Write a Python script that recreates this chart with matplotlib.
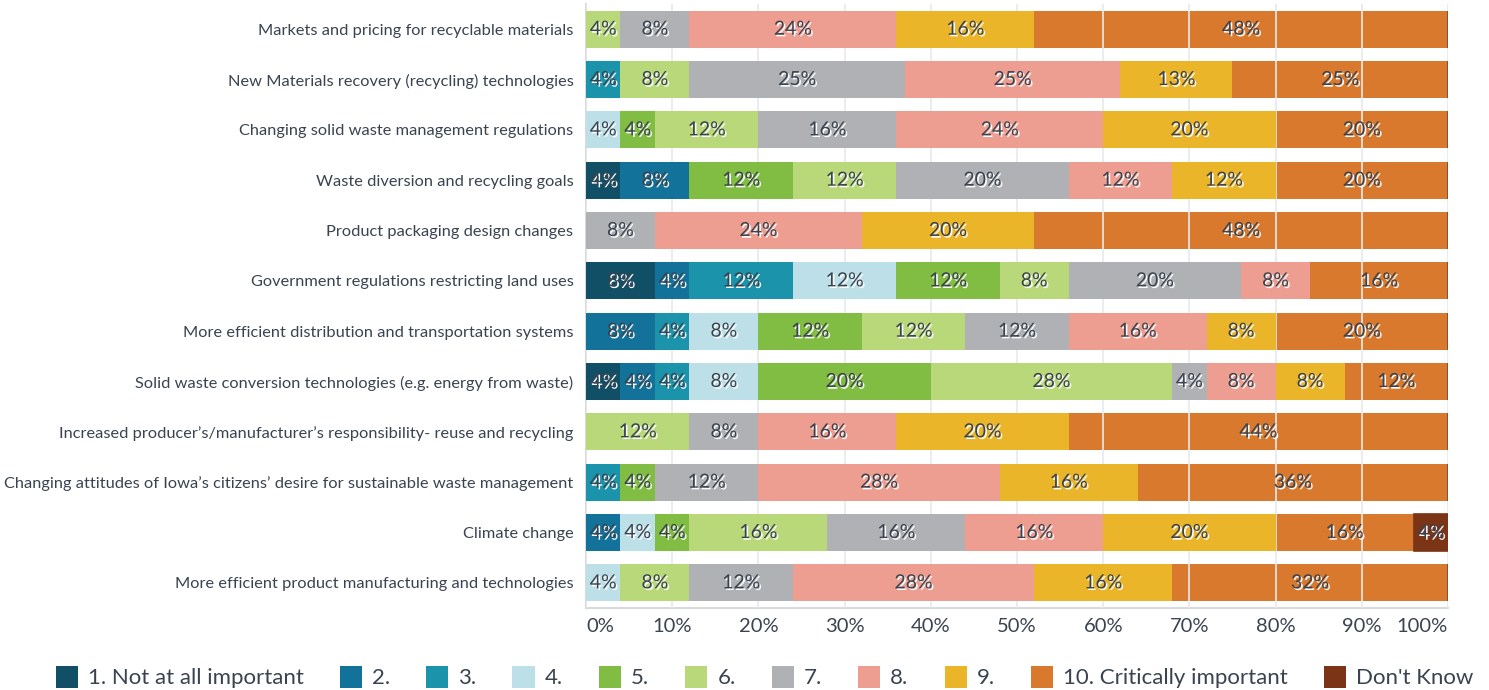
import matplotlib
matplotlib.use("Agg")
from matplotlib import pyplot as plt
from matplotlib.patches import Patch
import matplotlib.patheffects as pe
import numpy as np

plt.rcParams['font.family'] = ['Lato', 'DejaVu Sans']

questions = [
    "Markets and pricing for recyclable materials",
    "New Materials recovery (recycling) technologies",
    "Changing solid waste management regulations",
    "Waste diversion and recycling goals",
    "Product packaging design changes",
    "Government regulations restricting land uses",
    "More efficient distribution and transportation systems",
    "Solid waste conversion technologies (e.g. energy from waste)",
    "Increased producer\u2019s/manufacturer\u2019s responsibility- reuse and recycling",
    "Changing attitudes of Iowa\u2019s citizens\u2019 desire for sustainable waste management",
    "Climate change",
    "More efficient product manufacturing and technologies",
]

ratings = ["1. Not at all important", "2.", "3.", "4.", "5.", "6.", "7.", "8.", "9.",
           "10. Critically important", "Don't Know"]

# one list per rating, values per question (top to bottom)
r1 = [0, 0, 0, 4, 0, 8, 0, 4, 0, 0, 0, 0]
r2 = [0, 0, 0, 8, 0, 4, 8, 4, 0, 0, 4, 0]
r3 = [0, 4, 0, 0, 0, 12, 4, 4, 0, 4, 0, 0]
r4 = [0, 0, 4, 0, 0, 12, 8, 8, 0, 0, 4, 4]
r5 = [0, 0, 4, 12, 0, 12, 12, 20, 0, 4, 4, 0]
r6 = [4, 8, 12, 12, 0, 8, 12, 28, 12, 0, 16, 8]
r7 = [8, 25, 16, 20, 8, 20, 12, 4, 8, 12, 16, 12]
r8 = [24, 25, 24, 12, 24, 8, 16, 8, 16, 28, 16, 28]
r9 = [16, 13, 20, 12, 20, 0, 8, 8, 20, 16, 20, 16]
r10 = [48, 25, 20, 20, 48, 16, 20, 12, 44, 36, 16, 32]
dk = [0, 0, 0, 0, 0, 0, 0, 0, 0, 0, 4, 0]

series = [r1, r2, r3, r4, r5, r6, r7, r8, r9, r10, dk]
colors = ["#114f66", "#12729a", "#1a93ab", "#bde0e8", "#82bd43", "#b8d87a",
          "#b0b1b4", "#ed9e90", "#ebb529", "#d9792e", "#7b3416"]
text_col = "#3a434f"

fig = plt.figure(figsize=(14.89, 6.9), dpi=100)
ax = fig.add_axes([586 / 1489, 1 - 608 / 690, 862 / 1489, 604 / 690])

y = np.arange(len(questions))
left = np.zeros(len(questions))
shadow = [pe.withSimplePatchShadow(offset=(1.2, -1.2), shadow_rgbFace='white', alpha=1.0)]

for i, (vals, col) in enumerate(zip(series, colors)):
    vals = np.array(vals, dtype=float)
    # orange series sits under the gridlines (as in the original)
    z = 1 if i == 9 else 3
    ax.barh(y, vals, left=left, height=0.73, color=col, zorder=z,
            edgecolor=col if i == 10 else 'none', linewidth=1.2 if i == 10 else 0)
    for yy, l, v in zip(y, left, vals):
        if v > 0:
            ax.text(l + v / 2, yy, f"{int(v)}%", ha='center', va='center',
                    fontsize=14, color=text_col, zorder=5, path_effects=shadow)
    left = left + vals

ax.set_xlim(0, 100)
ax.set_ylim(len(questions) - 0.5, -0.5)
ax.set_xticks(np.arange(0, 101, 10))
ax.set_xticklabels([f"{t}%" for t in range(0, 101, 10)], fontsize=14.5, color=text_col)
xl = ax.get_xticklabels()
xl[0].set_ha('left')
xl[-1].set_ha('right')
ax.set_yticks(y)
ax.set_yticklabels(questions, fontsize=11.75, color=text_col)
ax.tick_params(axis='both', length=0)
ax.tick_params(axis='y', pad=9)
ax.tick_params(axis='x', pad=7)
ax.grid(axis='x', color='#e6eaec', linewidth=1.2, zorder=2)
ax.set_axisbelow(False)
for s in ['top', 'right']:
    ax.spines[s].set_visible(False)
for s in ['left', 'bottom']:
    ax.spines[s].set_color('#d8dadc')
    ax.spines[s].set_linewidth(1.5)

handles = [Patch(facecolor=c, edgecolor='none', label=r) for c, r in zip(colors, ratings)]
fig.legend(handles=handles, loc='center', bbox_to_anchor=(0.5135, 1 - 677 / 690), ncol=11,
           frameon=False, fontsize=16, handlelength=1.0, handleheight=1.17,
           handletextpad=0.45, columnspacing=1.62, labelcolor=text_col)

fig.savefig("out.png", dpi=100)
